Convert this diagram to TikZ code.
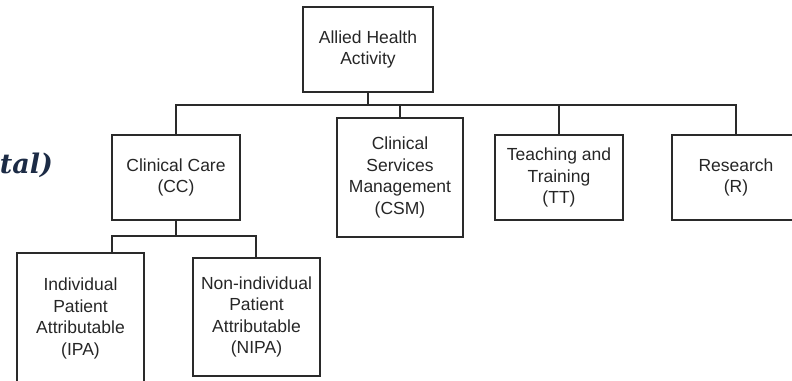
\documentclass[tikz,border=0pt]{standalone}
\usepackage{fontspec}
\setmainfont{Liberation Sans}
\newfontfamily\headfont{DejaVu Serif}
\definecolor{linegray}{HTML}{2A2A2A}
\definecolor{textgray}{HTML}{262626}
\definecolor{navy}{HTML}{1C2B45}
\begin{document}
\begin{tikzpicture}[x=1pt,y=-1pt,
  box/.style={draw=linegray,line width=1.25pt,rectangle,inner sep=0pt,outer sep=0pt,
    align=center,text=textgray,font=\fontsize{17.5}{21.5}\selectfont},
  conn/.style={draw=linegray,line width=1.25pt}]
\useasboundingbox (0,0) rectangle (792,380);
\clip (0,0) rectangle (792,380);
\node[box,minimum width=130pt,minimum height=85pt] (top) at (368,49.5) {Allied Health\\Activity};
\node[box,minimum width=128pt,minimum height=85pt] (cc) at (176,177.5) {Clinical Care\\(CC)};
\node[box,minimum width=126pt,minimum height=119pt] (csm) at (400,177.5) {Clinical\\Services\\Management\\(CSM)};
\node[box,minimum width=128pt,minimum height=85pt] (tt) at (559,177.5) {Teaching and\\Training\\(TT)};
\node[box,minimum width=128pt,minimum height=85pt] (r) at (736,177.5) {Research\\(R)};
\node[box,minimum width=127pt,minimum height=131pt] (ipa) at (80.5,318.5) {Individual\\Patient\\Attributable\\(IPA)};
\node[box,minimum width=127pt,minimum height=118pt] (nipa) at (256.5,317) {Non-individual\\Patient\\Attributable\\(NIPA)};
\node[anchor=base east,inner sep=0pt,text=navy,font=\headfont\bfseries\itshape\fontsize{27}{30}\selectfont] (frag) at (53,173) {tal)};
\coordinate (bus) at (368,105);
\coordinate (bl) at (112,236);
\coordinate (br) at (256,236);
\draw[conn] (top.south) -- (bus);
\draw[conn] (cc.north) |- (bus) -| (r.north);
\draw[conn] (csm.north) -- (csm.north |- bus);
\draw[conn] (tt.north) -- (tt.north |- bus);
\draw[conn] (cc.south) -- (cc.south |- bl);
\draw[conn] (ipa.north -| bl) -- (bl) -- (br) -- (br |- nipa.north);
\end{tikzpicture}
\end{document}
